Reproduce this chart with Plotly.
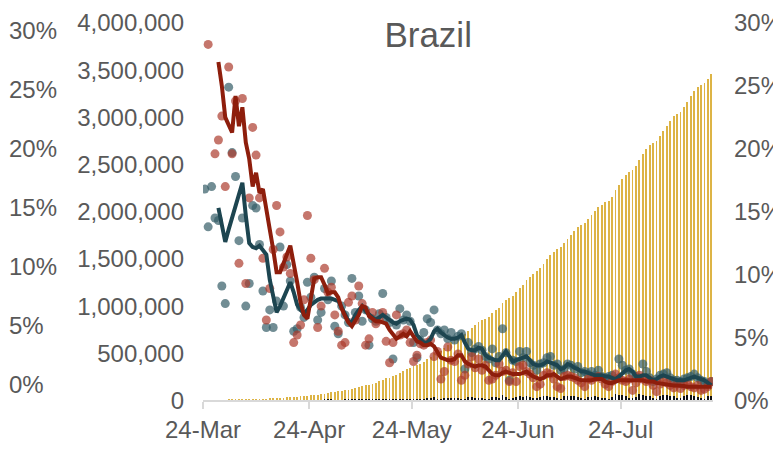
import plotly.graph_objects as go
import pandas as pd

# ---------------- data ----------------
start_date = "2020-03-24"

tick_dates = ["2020-03-24", "2020-04-24", "2020-05-24", "2020-06-24", "2020-07-24"]
tick_labels = ["24-Mar", "24-Apr", "24-May", "24-Jun", "24-Jul"]

cumulative_cases = [
    2201, 2433, 2915, 3417, 3904, 4256, 4579, 5717,
    6836, 8044, 9056, 10360, 11130, 12161, 14034, 16170, 18092, 19638,
    20727, 22192, 23430, 25262, 28320, 30425, 33682, 36658, 38654, 40743,
    43079, 45757, 50036, 54043, 59324, 63100, 67446, 73235, 79685, 87187,
    92202, 97100, 101826, 108620, 115455, 126611, 135773, 146894, 156061, 162699,
    169594, 178214, 190137, 203165, 220291, 233511, 241080, 255368, 271885, 291579,
    310087, 330890, 347398, 363211, 374898, 391222, 411821, 438238, 465166, 498440,
    514849,
    526447, 555383, 584016, 614941, 645771, 672846, 691758, 707412, 739503, 772416,
    802828, 828810, 850514, 867624, 888271, 923189, 955377, 978142, 1032913, 1067579,
    1085038, 1106470, 1145906, 1188631, 1228114, 1274974, 1313667, 1344143, 1368195, 1402041,
    1448753, 1496858, 1539081, 1577004, 1603055, 1623284, 1668589, 1713160, 1755779, 1800827,
    1839850, 1864681, 1884967, 1926824, 1966748, 2012151, 2046328, 2074860, 2098389, 2118646,
    2159654, 2227514, 2287475, 2343366, 2394513, 2419091, 2442375, 2483191, 2552265, 2610102,
    2662485,
    2707877, 2733677, 2750318, 2801921, 2859073, 2912212, 2962442, 3012412, 3035422, 3057470,
    3109630, 3164785, 3224876, 3275520, 3317096, 3340197, 3359570, 3407354, 3456652,
]

daily_new_thousands = [
    0.3, 0.2, 0.5, 0.5, 0.5, 0.4, 0.3, 1.1,
    1.1, 1.2, 1.0, 1.3, 0.8, 1.0, 1.9, 2.1, 1.9, 1.5,
    1.1, 1.5, 1.2, 1.8, 3.1, 2.1, 3.3, 3.0, 2.0, 2.1,
    2.3, 2.7, 4.3, 4.0, 5.3, 3.8, 4.3, 5.8, 6.5, 7.5,
    5.0, 4.9, 4.7, 6.8, 6.8, 11.2, 9.2, 11.1, 9.2, 6.6,
    6.9, 8.6, 11.9, 13.0, 17.1, 13.2, 7.6, 14.3, 16.5, 19.7,
    18.5, 20.8, 16.5, 15.8, 11.7, 16.3, 20.6, 26.4, 26.9, 33.3,
    16.4,
    11.6, 28.9, 28.6, 30.9, 30.8, 27.1, 18.9, 15.7, 32.1, 32.9,
    30.4, 26.0, 21.7, 17.1, 20.6, 34.9, 32.2, 22.8, 54.8, 34.7,
    17.5, 21.4, 39.4, 42.7, 39.5, 46.9, 38.7, 30.5, 24.1, 33.8,
    46.7, 48.1, 42.2, 37.9, 26.1, 20.2, 45.3, 44.6, 42.6, 45.0,
    39.0, 24.8, 20.3, 41.9, 39.9, 45.4, 34.2, 28.5, 23.5, 20.3,
    41.0, 67.9, 60.0, 55.9, 51.1, 24.6, 23.3, 40.8, 69.1, 57.8,
    52.4,
    45.4, 25.8, 16.6, 51.6, 57.2, 53.1, 50.2, 50.0, 23.0, 22.0,
    52.2, 55.2, 60.1, 50.6, 41.6, 23.1, 19.4, 47.8, 49.3,
]

red_points_pct = [
    None, 28.3, None, 19.6, 20.7, 22.6, 17.0, 26.5, 19.6, 23.8,
    10.9, 24.0, 9.3, 16.1, 21.7, 19.5, 16.1, 11.3, 6.4, 8.9,
    12.0, 15.5, 13.4, 10.6, 11.4, 10.1, 4.6, 5.2, 6.0, 8.0,
    14.7, 11.3, 9.6, 5.8, 7.5, 10.5, 8.6, 9.0, 6.8, 5.5,
    4.4, 4.6, 7.8, 8.3, 6.4, 9.1, 7.7, 4.4, 4.9, 7.0,
    6.1, 6.4, 7.0, 4.7, 3.0, 4.6, 6.8, 5.2, 5.3, 5.6,
    4.6, 3.1, 3.6, 4.5, 4.4, 4.6, 4.8, 3.5, 3.9, 1.7,
    2.3, 4.25, 3.2, 3.1, 3.7, 1.6, 2.0, 2.9, 3.5, 2.6,
    3.3, 2.4, 2.8, 1.6, 1.7, 2.0, 2.9, 2.3, 2.4, 1.5,
    2.2, 1.5, 2.7, 2.8, 2.3, 2.1, 1.8, 1.1, 1.3, 2.0,
    2.2, 2.1, 1.7, 1.1, 0.95, 1.9, 2.0, 1.9, 1.8, 1.6,
    1.4, 1.1, 1.7, 1.6, 1.8, 1.9, 1.7, 1.3, 1.1, 1.5,
    2.1, 1.8, 1.6, 1.5, 1.7, 0.8, 1.4, 2.0, 1.7, 1.5,
    1.6, 1.2, 0.7, 1.3, 1.5, 1.4, 1.2, 1.0, 1.3, 0.95,
    1.2, 1.3, 1.1, 1.0, 1.2, 0.8, 0.9, 1.1, 1.5,
]

teal_points_pct = [
    16.8, 13.8, 17.0, 14.5, 14.3, 9.1, 7.7, 24.9, 19.7, 17.8,
    12.7, 14.5, 7.5, 9.3, 15.5, 15.3, 12.4, 8.7, 5.8, 7.2,
    5.8, 7.9, 12.2, 7.5, 10.8, 9.5, 5.5, 5.7, 7.4, 6.6,
    9.4, 8.2, 9.8, 6.4, 7.0, 8.9, 8.0, 9.5, 5.9, 5.3,
    7.5, 6.8, 6.2, 9.7, 7.0, 8.3, 6.3, 7.2, 4.4, 6.5,
    6.3, 6.9, 8.5, 6.6, 6.2, 3.3, 6.0, 7.3, 6.4, 6.8,
    6.3, 4.6, 3.4, 4.8, 5.4, 6.5, 6.2, 7.2, 5.6, 5.3,
    5.6, 4.9, 5.4, 4.8, 5.1, 5.3, 2.5, 4.6, 3.8, 4.1,
    4.3, 4.0, 3.5, 3.3, 4.1, 3.0, 3.5, 5.7, 3.8, 1.6,
    3.2, 3.1, 3.9, 3.4, 3.9, 3.0, 2.8, 2.4, 2.9, 3.0,
    3.4, 3.5, 2.8, 2.9, 2.4, 2.5, 2.9, 2.8, 2.5, 2.7,
    2.2, 2.3, 2.1, 2.3, 2.0, 2.4, 1.9, 1.8, 1.9, 2.0,
    1.7, 3.3, 2.8, 2.4, 2.5, 2.1, 1.9, 1.8, 2.9, 2.3,
    1.8, 1.5, 1.7, 2.0, 2.1, 2.2, 1.8, 1.6, 1.6, 1.5,
    1.7, 1.8, 1.9, 2.1, 1.8, 1.6, 1.5, 1.3, 1.5,
]

red_avg_pct = [None, None, None, None,
    26.9, 25.0, 22.5, 21.8, 21.3, 24.2, 21.8, 23.3, 20.5, 19.2,
    17.0, 18.1, 16.5, 16.8, 15.0, 13.6, 12.0, 10.2, 10.2, 11.0,
    11.6, 12.3, 11.0, 9.4, 7.8, 6.8, 6.5, 8.2, 9.7, 9.8,
    9.8, 9.2, 8.5, 8.6, 8.6, 8.2, 7.3, 6.7, 6.2, 5.9,
    6.3, 6.8, 7.5, 7.4, 6.7, 6.5, 6.3, 6.3, 6.2, 6.1,
    5.6, 5.2, 4.9, 5.1, 5.3, 5.1, 5.5, 5.1, 4.7, 4.6,
    4.4, 4.4, 4.5, 4.3, 3.9, 3.4, 3.3, 3.2, 3.2, 3.3,
    3.6, 3.6, 3.1, 2.9, 2.8, 2.7, 2.8, 2.8, 2.7, 2.4,
    2.1, 2.0, 2.0, 2.2, 2.3, 2.2, 2.1, 2.1, 2.1, 2.2,
    2.3, 2.1, 1.9, 1.8, 1.7, 1.8, 2.0, 2.0, 2.1, 1.9,
    1.7, 1.8, 1.9, 1.9, 1.8, 1.7, 1.6, 1.6, 1.6, 1.6,
    1.7, 1.7, 1.7, 1.5, 1.4, 1.4, 1.5, 1.6, 1.6, 1.6,
    1.6, 1.6, 1.6, 1.6, 1.6, 1.5, 1.5, 1.5, 1.4, 1.35,
    1.3, 1.25, 1.2, 1.2, 1.2, 1.2, 1.15, 1.1, 1.1, 1.1,
    1.1, 1.1, 1.1, 1.1, 1.1,
]

teal_avg_pct = [None, None, None, None,
    15.3, 14.0, 12.6, 13.6, 14.6, 15.6, 16.3, 17.3, 14.7, 12.5,
    12.2, 12.1, 12.3, 12.0, 11.6, 9.6, 8.2, 7.0, 7.5, 8.2,
    8.8, 9.4, 8.6, 7.6, 7.2, 6.9, 7.2, 7.6, 7.8, 8.0,
    8.1, 8.1, 8.1, 8.1, 8.0, 7.9, 7.4, 6.8, 6.3, 6.2,
    6.8, 7.2, 7.5, 7.1, 6.8, 6.6, 6.4, 6.6, 6.8, 6.6,
    6.4, 6.2, 6.1, 6.3, 6.4, 6.5, 6.4, 6.0, 5.2, 4.9,
    4.6, 4.6, 4.9, 5.5, 5.7, 5.4, 5.2, 5.0, 4.9, 4.9,
    5.0, 5.2, 4.6, 4.1, 4.0, 4.0, 4.2, 4.1, 3.6, 3.4,
    3.3, 3.2, 3.2, 3.6, 3.9, 3.5, 3.1, 3.2, 3.3, 3.4,
    3.5, 3.2, 2.9, 2.8, 2.8, 2.9, 3.1, 3.0, 2.9, 2.8,
    2.5, 2.6, 2.9, 2.8, 2.6, 2.5, 2.3, 2.3, 2.2, 2.1,
    2.0, 2.0, 2.0, 1.9, 1.9, 1.8, 1.7, 1.9, 2.2, 2.4,
    2.5, 2.3, 1.9, 1.9, 2.0, 2.0, 1.8, 1.6, 1.7, 1.9,
    2.0, 1.9, 1.8, 1.7, 1.6, 1.6, 1.6, 1.7, 1.8, 1.9,
    1.8, 1.7, 1.6, 1.4, 1.2,
]

n = len(cumulative_cases)
for name, arr in [("daily", daily_new_thousands), ("red", red_points_pct), ("teal", teal_points_pct),
                  ("ravg", red_avg_pct), ("tavg", teal_avg_pct)]:
    assert len(arr) == n, (name, len(arr), n)

# ---------------- figure ----------------
dates = pd.date_range(start_date, periods=n, freq="D") + pd.Timedelta(hours=12)
daily_new = [v * 1000 for v in daily_new_thousands]

TEXT = "#595959"
FONT = "Liberation Sans, Arial, sans-serif"
DAY_MS = 86400000
bar_w = 0.25 * DAY_MS

fig = go.Figure()
fig.add_trace(go.Bar(x=dates, y=cumulative_cases, width=bar_w, marker=dict(color="#DDB445", line=dict(width=0)),
                     yaxis="y", hoverinfo="skip"))
fig.add_trace(go.Bar(x=dates, y=daily_new, width=bar_w, marker=dict(color="#111111", line=dict(width=0)),
                     yaxis="y", hoverinfo="skip"))
fig.add_trace(go.Scatter(x=dates, y=teal_points_pct, mode="markers", yaxis="y2",
                         marker=dict(size=9, color="rgba(52,92,102,0.7)", line=dict(width=0))))
fig.add_trace(go.Scatter(x=dates, y=red_points_pct, mode="markers", yaxis="y2",
                         marker=dict(size=9, color="rgba(172,60,45,0.7)", line=dict(width=0))))
fig.add_trace(go.Scatter(x=dates, y=teal_avg_pct, mode="lines", yaxis="y2",
                         line=dict(color="#1D4550", width=4)))
fig.add_trace(go.Scatter(x=dates, y=red_avg_pct, mode="lines", yaxis="y2",
                         line=dict(color="#8E1E0C", width=4)))
# outer left percentage scale (own subplot, no visible marks)
fig.add_trace(go.Scatter(x=dates[:1], y=[None], mode="lines", yaxis="y3", hoverinfo="skip"))

tick_font = dict(family=FONT, size=24, color=TEXT)

fig.update_layout(
    template="none",
    width=781, height=450,
    margin=dict(l=0, r=0, t=0, b=0, autoexpand=False),
    paper_bgcolor="white", plot_bgcolor="rgba(0,0,0,0)",
    showlegend=False, barmode="overlay", bargap=0,
    font=dict(family=FONT, color=TEXT),
    title=dict(text="Brazil", x=0.538, xref="container", xanchor="center",
               y=0.94, yref="container", yanchor="middle",
               font=dict(family=FONT, size=35, color=TEXT)),
    xaxis=dict(domain=[0.2497, 0.9027], type="date", range=["2020-03-24", "2020-08-20"],
               tickvals=tick_dates, ticktext=tick_labels, tickfont=tick_font,
               ticks="outside", ticklen=7, tickwidth=1.5, tickcolor="#D9D9D9",
               showline=True, linecolor="#D9D9D9", linewidth=1.5,
               showgrid=False, zeroline=False, anchor="y", automargin=False),
    yaxis=dict(domain=[0.1278, 0.9667], range=[0, 4000000], dtick=500000, tickformat=",",
               tickfont=tick_font, showgrid=False, zeroline=False, showline=False, ticks="",
               ticklabelstandoff=18, anchor="x", automargin=False),
    yaxis2=dict(overlaying="y", side="right", anchor="x", range=[0, 30], dtick=5, ticksuffix="%",
                tickfont=tick_font, showgrid=False, zeroline=False, showline=False, ticks="",
                ticklabelstandoff=20, automargin=False),
    yaxis3=dict(domain=[0.1622, 0.95], range=[0, 30], dtick=5, ticksuffix="%",
                side="right", anchor="free", position=0, tickfont=tick_font, ticks="",
                showgrid=False, zeroline=False, showline=False, ticklabelstandoff=0,
                automargin=False),
)

fig.write_html("out.html")
